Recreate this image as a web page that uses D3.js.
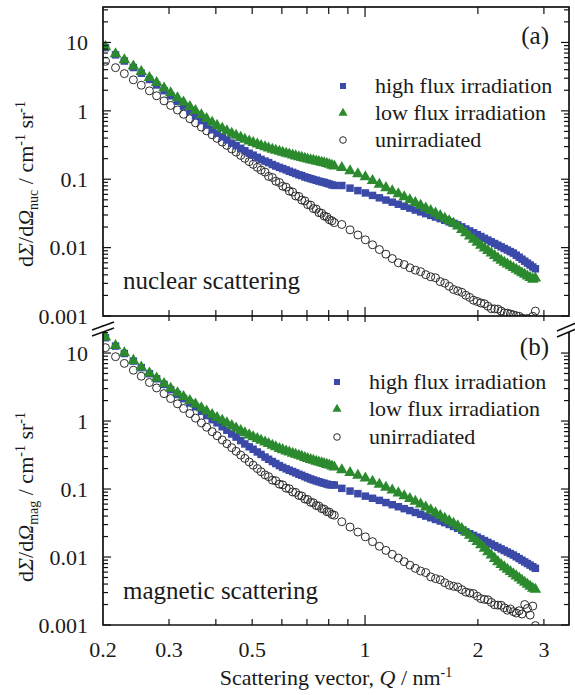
<!DOCTYPE html>
<html><head><meta charset="utf-8">
<script src="https://cdn.jsdelivr.net/npm/d3@7"></script>
<style>
body{margin:0;background:#fff}
svg{display:block}
</style>
</head><body>
<svg id="c" width="575" height="695" font-family="'Liberation Serif', 'Times New Roman', Times, 'DejaVu Serif', serif"></svg>
<script>
// ---------------- data ----------------
const qValues = [0.203,0.216,0.228,0.241,0.253,0.266,0.278,0.291,0.303,0.316,0.328,0.341,0.353,0.366,0.378,0.391,0.403,0.416,0.428,0.441,0.453,0.466,0.478,0.491,0.503,0.516,0.528,0.541,0.553,0.566,0.578,0.591,0.603,0.616,0.628,0.641,0.653,0.666,0.678,0.691,0.703,0.716,0.728,0.741,0.753,0.766,0.778,0.791,0.803,0.816,0.828,
0.867,0.912,0.957,1.002,1.047,1.092,1.137,1.182,1.227,1.272,1.317,1.362,1.407,1.452,1.497,1.542,1.587,1.632,1.677,1.722,1.767,1.812,1.857,1.902,1.947,1.992,2.037,2.082,2.127,2.172,2.217,2.262,2.307,2.352,2.397,2.442,2.487,2.532,2.577,2.622,2.667,2.712,2.757,2.802,2.847];

// (a) nuclear scattering
const nucHighFlux = [8.39,6.59,5.35,4.30,3.55,2.87,2.39,1.97,1.66,1.38,1.17,0.992,0.849,0.720,0.619,0.529,0.471,0.416,0.375,0.337,0.311,0.283,0.261,0.240,0.225,0.209,0.195,0.184,0.175,0.164,0.156,0.149,0.143,0.137,0.131,0.126,0.121,0.116,0.113,0.108,0.105,0.102,0.0991,0.0965,0.0939,0.0916,0.0898,0.0874,0.0852,0.0826,0.0811,
0.0809,0.0741,0.0682,0.0630,0.0580,0.0535,0.0496,0.0462,0.0431,0.0403,0.0378,0.0354,0.0333,0.0314,0.0296,0.0280,0.0265,0.0251,0.0238,0.0226,0.0215,0.0201,0.01875,0.01755,0.01646,0.01547,0.01455,0.01368,0.01288,0.01215,0.01147,0.01084,0.01026,0.00972,0.00922,0.00875,0.00832,0.00775,0.00724,0.00677,0.00633,0.00593,0.00556,0.00521,0.00490];
const nucLowFlux = [8.79,6.93,5.65,4.57,3.80,3.11,2.62,2.18,1.86,1.57,1.36,1.17,1.02,0.889,0.784,0.687,0.620,0.562,0.518,0.476,0.444,0.414,0.390,0.367,0.349,0.331,0.316,0.302,0.290,0.278,0.268,0.259,0.251,0.243,0.236,0.229,0.222,0.216,0.211,0.205,0.200,0.195,0.191,0.187,0.183,0.179,0.176,0.172,0.168,0.162,0.158,
0.150,0.1346,0.1216,0.1102,0.0967,0.0852,0.0762,0.0686,0.0620,0.0561,0.0508,0.0463,0.0422,0.0385,0.0352,0.0323,0.0297,0.0272,0.0249,0.0229,0.0209,0.0186,0.01665,0.01493,0.01341,0.01209,0.01094,0.01001,0.00917,0.00841,0.00773,0.00712,0.00660,0.00620,0.00582,0.00548,0.00516,0.00487,0.00460,0.00434,0.00411,0.00389,0.00369,0.00350,0.00363];
const nucUnirr = [5.30,4.28,3.50,2.84,2.37,1.96,1.66,1.40,1.20,1.03,0.892,0.766,0.668,0.579,0.510,0.446,0.396,0.349,0.312,0.277,0.249,0.223,0.202,0.181,0.165,0.149,0.136,0.127,0.110,0.106,0.0935,0.0895,0.0790,0.0765,0.0672,0.0650,0.0570,0.0560,0.0495,0.0482,0.0425,0.0418,0.0372,0.0366,0.0325,0.0318,0.0290,0.0281,0.0256,0.0247,0.0232,
0.0218,0.0182,0.0153,0.0130,0.0110,0.00937,0.00802,0.00692,0.00600,0.00565,0.00507,0.00468,0.00445,0.00402,0.00374,0.00362,0.00318,0.00302,0.00272,0.00244,0.00233,0.00222,0.00201,0.00187,0.00170,0.00163,0.00155,0.00151,0.00139,0.00128,0.00127,0.00126,0.00118,0.00111,0.00110,0.00107,0.00104,0.00101,0.00099,0.00093,0.00090,0.00092,0.00088,0.00099,0.00118];

// (b) magnetic scattering
const magHighFlux = [16.8,12.65,9.85,7.62,6.10,4.97,4.18,3.45,2.89,2.46,2.14,1.84,1.62,1.39,1.205,1.047,0.940,0.824,0.732,0.645,0.580,0.515,0.460,0.418,0.385,0.351,0.323,0.295,0.274,0.254,0.237,0.221,0.2085,0.198,0.189,0.181,0.173,0.165,0.159,0.152,0.146,0.1405,0.136,0.1316,0.128,0.1245,0.1214,0.1182,0.1153,0.1155,0.1144,
0.1023,0.0933,0.0855,0.0786,0.0731,0.0681,0.0632,0.0588,0.0549,0.0514,0.0482,0.0452,0.0425,0.0400,0.0378,0.0357,0.0338,0.0320,0.0301,0.0282,0.0264,0.0248,0.0234,0.0220,0.0208,0.0196,0.0185,0.01745,0.01644,0.01552,0.01467,0.01388,0.01315,0.01246,0.01183,0.01124,0.01069,0.01007,0.00950,0.00897,0.00848,0.00802,0.00759,0.00719,0.00682];
const magLowFlux = [17.4,13.1,10.2,7.89,6.31,5.15,4.33,3.60,3.06,2.64,2.32,2.03,1.80,1.585,1.416,1.259,1.143,1.038,0.953,0.870,0.801,0.735,0.681,0.633,0.596,0.560,0.529,0.498,0.471,0.445,0.422,0.400,0.384,0.368,0.354,0.341,0.329,0.317,0.306,0.295,0.285,0.275,0.267,0.259,0.2525,0.2455,0.2394,0.2331,0.2275,0.220,0.213,
0.195,0.1768,0.1611,0.1472,0.1319,0.1188,0.1074,0.0975,0.0888,0.0806,0.0732,0.0668,0.0609,0.0550,0.0499,0.0453,0.0413,0.0377,0.0346,0.0317,0.0292,0.0265,0.0236,0.0212,0.0190,0.0171,0.01537,0.01363,0.01212,0.01080,0.00966,0.00865,0.00784,0.00724,0.00669,0.00620,0.00575,0.00534,0.00497,0.00462,0.00431,0.00402,0.00375,0.00351,0.00339];
const magUnirr = [12.0,8.84,7.05,5.59,4.56,3.69,3.07,2.53,2.14,1.79,1.53,1.29,1.104,0.938,0.811,0.697,0.608,0.527,0.464,0.406,0.359,0.316,0.282,0.250,0.224,0.200,0.180,0.1616,0.152,0.135,0.132,0.118,0.115,0.103,0.101,0.0905,0.0892,0.0805,0.0790,0.0712,0.0702,0.0638,0.0628,0.0572,0.0562,0.0515,0.0506,0.0465,0.0457,0.0422,0.0412,
0.0330,0.0276,0.0233,0.0198,0.01682,0.01438,0.01251,0.01096,0.00966,0.00854,0.00759,0.00682,0.00622,0.00590,0.00510,0.00481,0.00462,0.00419,0.00385,0.00371,0.00362,0.00331,0.00305,0.00296,0.00290,0.00265,0.00244,0.00238,0.00235,0.00215,0.00198,0.00196,0.00195,0.00179,0.00165,0.00172,0.00157,0.00150,0.00162,0.00145,0.00200,0.00175,0.00140,0.00190,0.00098];

const seriesNames = ["high flux irradiation","low flux irradiation","unirradiated"];
const xTickValues = [0.2,0.3,0.5,1,2,3];
const xTickLabels = ["0.2","0.3","0.5","1","2","3"];
const yTickValues = [0.001,0.01,0.1,1,10];
const yTickLabels = ["0.001","0.01","0.1","1","10"];

// ---------------- layout ----------------
const svg = d3.select("#c");
const L = 103, R = 569;
const x = d3.scaleLog().domain([0.2, 3.5]).range([L, R]);
const panels = [
  {id:"a", y:d3.scaleLog().domain([0.001, 33]).range([316, 7]), top:7, bottom:316,
   data:[nucUnirr, nucHighFlux, nucLowFlux], tag:"(a)", tagY:44, note:"nuclear scattering", noteY:289,
   sub:"nuc", legX:343, legY:[86,113,140], labelY:184},
  {id:"b", y:d3.scaleLog().domain([0.001, 25]).range([625, 326]), top:326, bottom:625,
   data:[magUnirr, magHighFlux, magLowFlux], tag:"(b)", tagY:355, note:"magnetic scattering", noteY:599,
   sub:"mag", legX:337, legY:[382,409,437], labelY:497}
];
const blue = "#3b4aa8", green = "#2b8a2d", circ = "#2a2a2a", ink = "#1a1a1a";
const FS = 22;

const defs = svg.append("defs");
panels.forEach(p => {
  defs.append("clipPath").attr("id","clip"+p.id).append("rect")
    .attr("x",L).attr("y",p.top).attr("width",R-L).attr("height",p.bottom-p.top);
});

const sq = d3.symbol().type(d3.symbolSquare);
const tri = d3.symbol().type(d3.symbolTriangle);
const isMajor = t => Math.abs(Math.log10(t) - Math.round(Math.log10(t))) < 1e-6;

panels.forEach(p => {
  const y = p.y;
  const g = svg.append("g");
  const plot = g.append("g").attr("clip-path","url(#clip"+p.id+")");
  const [unirr, hi, lo] = p.data;
  plot.append("g").selectAll("circle").data(qValues.map((q,i)=>[q,unirr[i]])).join("circle")
    .attr("cx",d=>x(d[0])).attr("cy",d=>y(d[1])).attr("r",4)
    .attr("fill","none").attr("stroke",circ).attr("stroke-width",1);
  plot.append("g").selectAll("path").data(qValues.map((q,i)=>[q,hi[i]])).join("path")
    .attr("d",sq.size(56)()).attr("transform",d=>`translate(${x(d[0])},${y(d[1])})`).attr("fill",blue);
  plot.append("g").selectAll("path").data(qValues.map((q,i)=>[q,lo[i]])).join("path")
    .attr("d",tri.size(58)()).attr("transform",d=>`translate(${x(d[0])},${y(d[1])+0.5})`).attr("fill",green);

  const ax = g.append("g").attr("stroke","#111").attr("fill","none");
  if (p.id === "a") {
    ax.append("rect").attr("x",L).attr("y",p.top).attr("width",R-L).attr("height",p.bottom-p.top).attr("stroke-width",1.7);
  } else {
    ax.append("path").attr("d",`M${L},${p.top-1}V${p.bottom}H${R}V${p.top+1}`).attr("stroke-width",1.7);
  }
  y.ticks().forEach(t => {
    const yy = y(t); if (yy < p.top - 0.5) return;
    const len = isMajor(t) ? 8 : 5;
    ax.append("line").attr("x1",L).attr("x2",L+len).attr("y1",yy).attr("y2",yy).attr("stroke-width",1.2);
    ax.append("line").attr("x1",R).attr("x2",R-len).attr("y1",yy).attr("y2",yy).attr("stroke-width",1.2);
  });
  x.ticks().forEach(t => {
    const xx = x(t); if (xx <= L + 1 || xx >= R - 1) return;
    const major = isMajor(t);
    if (p.id === "a") {
      const lt = major ? 10 : 7;
      ax.append("line").attr("x1",xx).attr("x2",xx).attr("y1",p.top).attr("y2",p.top+lt).attr("stroke-width",1.2);
      ax.append("line").attr("x1",xx).attr("x2",xx).attr("y1",p.bottom-(major?9:6)).attr("y2",p.bottom+(major?6:5)).attr("stroke-width",1.2);
    } else {
      ax.append("line").attr("x1",xx).attr("x2",xx).attr("y1",p.bottom).attr("y2",p.bottom-(major?10:6)).attr("stroke-width",1.2);
    }
  });
  yTickValues.forEach((t,i) => {
    g.append("text").attr("x",88).attr("y",y(t)).attr("dy","0.35em").attr("text-anchor","end")
      .attr("font-size",FS).attr("fill",ink).text(yTickLabels[i]);
  });
  const yt = g.append("text").attr("transform",`translate(33,${p.labelY}) rotate(-90)`)
    .attr("text-anchor","middle").attr("font-size",FS).attr("fill",ink);
  yt.append("tspan").text("d");
  yt.append("tspan").attr("font-style","italic").text("Σ");
  yt.append("tspan").text("/d");
  yt.append("tspan").attr("font-style","italic").text("Ω");
  yt.append("tspan").attr("font-size",14).attr("dy",5).text(p.sub);
  yt.append("tspan").attr("dy",-5).text(" / cm");
  yt.append("tspan").attr("font-size",14).attr("dy",-8).text("-1");
  yt.append("tspan").attr("dy",8).text(" sr");
  yt.append("tspan").attr("font-size",14).attr("dy",-8).text("-1");

  g.append("text").attr("x",549).attr("y",p.tagY).attr("text-anchor","end").attr("font-size",25).attr("fill",ink).text(p.tag);
  g.append("text").attr("x",123).attr("y",p.noteY).attr("font-size",25).attr("fill",ink).text(p.note);

  const lg = g.append("g");
  const mk = [
    s => s.append("path").attr("d",sq.size(36)()).attr("fill",blue),
    s => s.append("path").attr("d",tri.size(36)()).attr("fill",green),
    s => s.append("circle").attr("r",3.3).attr("fill","none").attr("stroke",circ).attr("stroke-width",1)
  ];
  seriesNames.forEach((name,i) => {
    const row = lg.append("g").attr("transform",`translate(${p.legX},${p.legY[i]})`);
    mk[i](row);
    row.append("text").attr("x",32).attr("y",0).attr("dy","0.33em").attr("font-size",FS).attr("fill",ink).text(name);
  });
});

xTickValues.forEach((t,i) => {
  svg.append("text").attr("x",x(t)).attr("y",657).attr("text-anchor","middle").attr("font-size",FS).attr("fill",ink).text(xTickLabels[i]);
});
const xt = svg.append("text").attr("x",336).attr("y",685).attr("text-anchor","middle").attr("font-size",FS).attr("fill",ink);
xt.append("tspan").text("Scattering vector, ");
xt.append("tspan").attr("font-style","italic").text("Q");
xt.append("tspan").text(" / nm");
xt.append("tspan").attr("font-size",14).attr("dy",-8).text("-1");

const brk = svg.append("g");
[[92,114,330,322],[557,576,331,323]].forEach(([x1,x2,y1,y2]) => {
  brk.append("path").attr("d",`M${x1},${y1}L${x2},${y2}L${x2},${y2+6}L${x1},${y1+6}Z`).attr("fill","#fff");
  brk.append("line").attr("x1",x1).attr("y1",y1).attr("x2",x2).attr("y2",y2).attr("stroke","#111").attr("stroke-width",1.5);
  brk.append("line").attr("x1",x1).attr("y1",y1+6).attr("x2",x2).attr("y2",y2+6).attr("stroke","#111").attr("stroke-width",1.5);
});
</script>
</body></html>
